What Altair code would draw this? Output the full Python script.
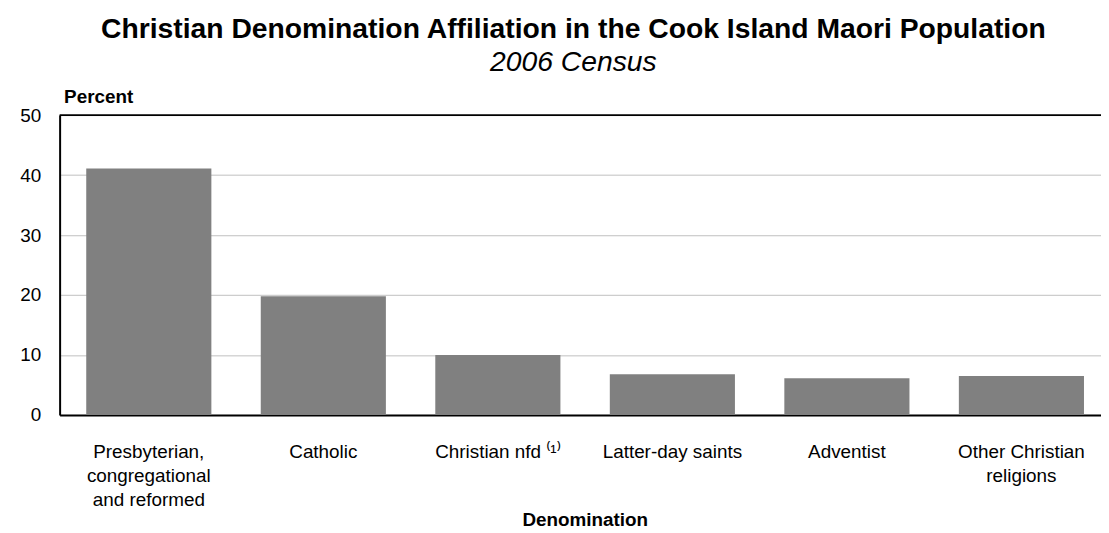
import altair as alt
import pandas as pd

# Data
categories = [
    "Presbyterian,\ncongregational\nand reformed",
    "Catholic",
    "Christian nfd \u207d\u00b9\u207e",
    "Latter-day saints",
    "Adventist",
    "Other Christian\nreligions",
]
percent = [41.1, 19.8, 10.0, 6.8, 6.1, 6.5]

df = pd.DataFrame({"Denomination": categories, "Percent": percent})

FONT = "Liberation Sans, Arial, Helvetica, sans-serif"

x_enc = alt.X(
    "Denomination:N",
    sort=categories,
    scale=alt.Scale(paddingInner=0.283, paddingOuter=0.125, align=0.61),
    axis=alt.Axis(
        title="Denomination",
        labelAngle=0,
        labelExpr="split(datum.label, '\\n')",
        labelFontSize=19,
        labelFont=FONT,
        labelColor="#000000",
        labelLineHeight=24,
        labelBaseline="top",
        labelPadding=28,
        ticks=False,
        domainColor="#000000",
        domainWidth=2,
        titleFont=FONT,
        titleFontSize=19,
        titleFontWeight="bold",
        titleColor="#000000",
        titleX=529,
        titleY=111,
        titleAlign="center",
        titleBaseline="alphabetic",
    ),
)

y_scale = alt.Scale(domain=[0, 50], nice=False)

bars = alt.Chart(df).mark_bar(color="#808080").encode(
    x=x_enc,
    y=alt.Y(
        "Percent:Q",
        scale=y_scale,
        axis=alt.Axis(
            title="Percent",
            values=[0, 10, 20, 30, 40, 50],
            labelFontSize=19,
            labelFont=FONT,
            labelColor="#000000",
            labelPadding=19,
            ticks=False,
            domainColor="#000000",
            domainWidth=2,
            gridColor="#c0c0c0",
            gridWidth=1,
            titleFont=FONT,
            titleFontSize=19,
            titleFontWeight="bold",
            titleColor="#000000",
            titleAngle=0,
            titleX=4,
            titleY=-13,
            titleAlign="left",
            titleBaseline="alphabetic",
        ),
    ),
)

top_border = alt.Chart(pd.DataFrame({"v": [50]})).mark_rule(
    color="#000000", strokeWidth=2
).encode(y=alt.Y("v:Q", scale=y_scale))

chart = (
    alt.layer(bars, top_border)
    .properties(
        width=1049,
        height=302,
        title=alt.TitleParams(
            text="Christian Denomination Affiliation in the Cook Island Maori Population",
            subtitle="2006 Census",
            font=FONT,
            fontSize=28.5,
            fontWeight="bold",
            color="#000000",
            subtitleFont=FONT,
            subtitleFontSize=28.5,
            subtitleFontStyle="italic",
            subtitleColor="#000000",
            subtitlePadding=5,
            anchor="middle",
            frame="group",
            dx=-7,
            offset=11,
        ),
        autosize=alt.AutoSizeParams(type="none"),
        padding={"left": 52, "top": 106, "right": 0, "bottom": 114},
    )
    .configure_view(stroke=None)
)

chart.save("out.html", embed_options={"renderer": "svg", "actions": False})
